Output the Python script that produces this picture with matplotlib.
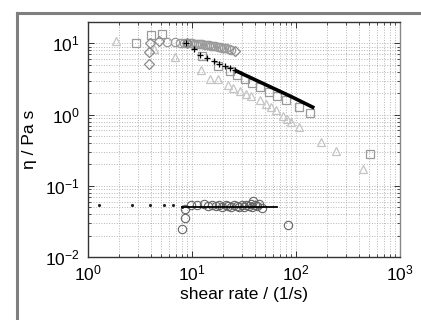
import matplotlib
matplotlib.use("Agg")
import matplotlib.pyplot as plt
from matplotlib.lines import Line2D
from matplotlib.ticker import LogLocator, LogFormatterSciNotation, NullFormatter

plt.rcParams['font.family'] = ['Liberation Sans', 'DejaVu Sans']
plt.rcParams['mathtext.fontset'] = 'custom'
plt.rcParams['mathtext.rm'] = 'Liberation Sans'
plt.rcParams['mathtext.default'] = 'regular'

# ---- data ----
tri_x = [1.87, 4.3, 6.8, 12.3, 14.8, 17.8, 22, 24.8, 28.7, 33, 37, 45, 52, 58, 64, 75, 82, 90, 108, 175, 240, 436]
tri_y = [10.8, 8.4, 6.4, 4.2, 3.2, 3.2, 2.6, 2.4, 2.13, 1.95, 1.8, 1.6, 1.4, 1.27, 1.18, 0.95, 0.88, 0.8, 0.68, 0.41, 0.31, 0.17]

sq_x = [2.9, 4.0, 5.2, 12.4, 17.8, 23, 27, 32, 38, 45, 55, 65, 81, 107, 137, 519]
sq_y = [10.2, 13.0, 13.7, 6.6, 4.8, 4.1, 3.6, 3.2, 2.8, 2.45, 2.1, 1.85, 1.63, 1.3, 1.06, 0.28]

dia_x = [3.9, 3.9, 3.95, 4.85, 8.9, 26]
dia_y = [5.06, 7.6, 10.2, 10.8, 10.0, 7.95]

circ_hi_x = [5.8, 6.8, 7.7, 8.3, 9.0, 9.5, 10, 10.5, 11, 11.5, 12, 12.6, 13.2, 13.8, 14.5,
             15.2, 16, 16.8, 17.6, 18.5, 19.4, 20.4, 21.4, 22.5, 23.6]
circ_hi_y = [10.5, 10.5, 10.2, 10.2, 10.1, 10.0, 10.0, 9.9, 9.9, 9.8, 9.7, 9.7, 9.6, 9.5, 9.4,
             9.3, 9.2, 9.1, 9.0, 8.9, 8.7, 8.6, 8.5, 8.3, 8.2]

plus_x = [8.75, 10.5, 11.9, 14.0, 16.1, 18.2, 20.7, 23.2, 26.0]
plus_y = [10.2, 8.4, 6.8, 6.3, 5.75, 5.2, 4.8, 4.55, 4.17]

fit_hi_x = [26, 40, 60, 90, 150]
fit_hi_y = [4.17, 3.11, 2.36, 1.79, 1.24]

dot_x = [1.28, 2.63, 3.95, 5.4, 6.6, 7.95]
dot_y = [0.054, 0.054, 0.054, 0.053, 0.053, 0.051]

fit_lo_x = [8.0, 65]
fit_lo_y = [0.051, 0.051]

circ_lo_x = [8.0, 8.5, 8.6, 9.7, 11.2, 12.9, 14.2, 15.7, 17.0, 18.3, 19.6, 21.0, 22.4, 23.8, 25.2,
             26.8, 28.4, 30.0, 31.6, 33.3, 35.0, 36.8, 38.0, 39.0, 40.5, 42.5, 44.0, 46.8, 84]
circ_lo_y = [0.0248, 0.035, 0.047, 0.054, 0.053, 0.055, 0.052, 0.054, 0.052, 0.053, 0.051, 0.053, 0.052,
             0.051, 0.053, 0.052, 0.05, 0.053, 0.051, 0.054, 0.052, 0.055, 0.05, 0.062, 0.053, 0.052,
             0.056, 0.049, 0.028]

xlim = (1, 1000)
ylim = (0.01, 20)

fig = plt.figure(figsize=(4.21, 3.20), dpi=100)
ax = fig.add_axes([88 / 421, 63 / 320, 312 / 421, 235 / 320])

ms = 6
ax.plot(tri_x, tri_y, linestyle='none', marker='^', ms=ms, mfc='none', mec='#c4c4c4', mew=0.9)
ax.plot(sq_x, sq_y, linestyle='none', marker='s', ms=ms, mfc='none', mec='#9a9a9a', mew=0.9)
ax.plot(circ_hi_x, circ_hi_y, linestyle='none', marker='o', ms=ms, mfc='none', mec='#9a9a9a', mew=0.9)
ax.plot(dia_x, dia_y, linestyle='none', marker='D', ms=5.5, mfc='none', mec='#8a8a8a', mew=0.9)
ax.plot(plus_x, plus_y, linestyle='none', marker='+', ms=4, mec='black', mew=0.9)
ax.plot(fit_hi_x, fit_hi_y, color='black', lw=2.6, solid_capstyle='butt')

ax.plot(dot_x, dot_y, linestyle='none', marker='.', ms=2.5, color='#222222')
ax.plot(circ_lo_x, circ_lo_y, linestyle='none', marker='o', ms=ms, mfc='none', mec='#666666', mew=0.8)
ax.plot(fit_lo_x, fit_lo_y, color='black', lw=1.3)

ax.set_xscale('log')
ax.set_yscale('log')
ax.set_xlim(*xlim)
ax.set_ylim(*ylim)

ax.xaxis.set_major_locator(LogLocator(base=10, numticks=10))
ax.yaxis.set_major_locator(LogLocator(base=10, numticks=10))
ax.xaxis.set_minor_locator(LogLocator(base=10, subs=range(2, 10), numticks=20))
ax.yaxis.set_minor_locator(LogLocator(base=10, subs=range(2, 10), numticks=20))
ax.xaxis.set_major_formatter(LogFormatterSciNotation())
ax.yaxis.set_major_formatter(LogFormatterSciNotation())
ax.xaxis.set_minor_formatter(NullFormatter())
ax.yaxis.set_minor_formatter(NullFormatter())

ax.grid(True, which='both', linestyle=':', color='#b5b5b5', lw=0.7)
ax.set_axisbelow(True)
ax.tick_params(which='both', direction='in', top=True, right=True, labelsize=12.5,
               colors='#333333', labelcolor='black')
ax.tick_params(which='major', length=4, width=0.7)
ax.tick_params(which='minor', length=2.5, width=0.6)
ax.tick_params(axis='x', pad=5)
ax.tick_params(axis='y', pad=6)
for s in ['left', 'bottom', 'top']:
    ax.spines[s].set_color('#333333')
    ax.spines[s].set_linewidth(1.0)
ax.spines['right'].set_color('#888888')
ax.spines['right'].set_linewidth(1.0)

ax.set_xlabel('shear rate / (1/s)', fontsize=12.5, labelpad=2)
ax.set_ylabel('η / Pa s', fontsize=12.5, labelpad=6)

# outer gray frame (top and left)
fig.add_artist(Line2D([16.5 / 421, 1.0], [1 - 12.5 / 320, 1 - 12.5 / 320],
                      transform=fig.transFigure, color='#7f7f7f', lw=2.2))
fig.add_artist(Line2D([16.5 / 421, 16.5 / 421], [0, 1 - 12.5 / 320],
                      transform=fig.transFigure, color='#7f7f7f', lw=2.2))

fig.savefig('out.png', dpi=100)
